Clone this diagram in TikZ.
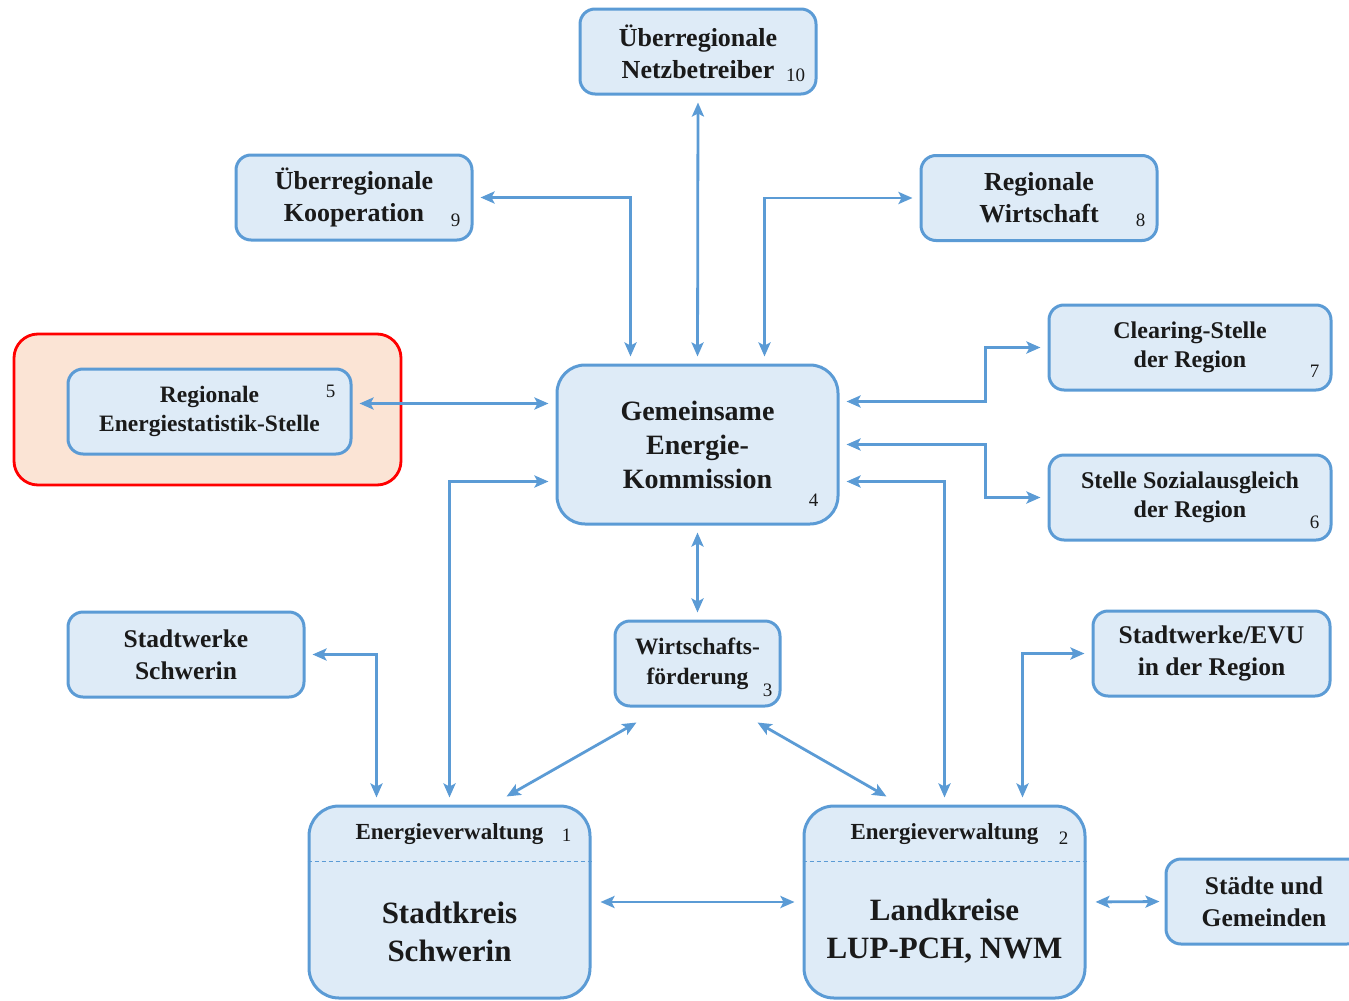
\documentclass[tikz,border=0pt]{standalone}
\usepackage{fontspec}
\setmainfont{Liberation Serif}
\definecolor{lineblue}{HTML}{5B9BD5}
\definecolor{cellblue}{HTML}{DEEBF7}
\definecolor{alertred}{HTML}{FF0000}
\definecolor{peach}{HTML}{FBE4D5}
\definecolor{ink}{HTML}{1A1A1A}
\usetikzlibrary{arrows.meta, positioning}
\tikzset{
  box/.style={draw=lineblue, fill=cellblue, line width=3pt, rounded corners=15pt, align=center, text=ink,
              font=\bfseries\fontsize{24}{29}\selectfont, inner sep=0pt, minimum width=236pt, minimum height=85pt},
  bigbox/.style={box, rounded corners=30pt, minimum width=281pt, minimum height=192pt},
  hilite/.style={draw=alertred, fill=peach, line width=2.8pt, rounded corners=24pt,
              minimum width=387pt, minimum height=151pt},
  flow/.style={{Stealth[length=14pt,width=12pt,inset=3pt]}-{Stealth[length=14pt,width=12pt,inset=3pt]}, line width=2.8pt,
              draw=lineblue, shorten <=7pt, shorten >=7pt},
  nr/.style={font=\fontsize{19}{19}\selectfont, text=ink, inner sep=0pt},
  head/.style={font=\bfseries\fontsize{23}{28}\selectfont, text=ink, inner sep=0pt},
  body/.style={align=center, font=\bfseries\fontsize{31}{38}\selectfont, text=ink, inner sep=0pt},
}
\begin{document}
\begin{tikzpicture}[x=1pt,y=-1pt]
\useasboundingbox (0,0) rectangle (1349,1001);
\node[hilite] (focus) at (207.5,409.5) {};
\node[box,font=\bfseries\fontsize{26}{32}\selectfont] (netz) at (698,51.5) {Überregionale\\Netzbetreiber};
\node[box,font=\bfseries\fontsize{26}{32}\selectfont] (koop) at (354,197.5) {Überregionale\\Kooperation};
\node[box,font=\bfseries\fontsize{26}{32}\selectfont] (wirt) at (1039,198) {Regionale\\Wirtschaft};
\node[box,minimum width=282pt] (clear) at (1190,347.5) {Clearing-Stelle\\der Region};
\node[box,minimum width=282pt] (sozial) at (1190,497.5) {Stelle Sozialausgleich\\der Region};
\node[box,minimum width=283pt,font=\bfseries\fontsize{23.5}{29}\selectfont] (stat) at (209.5,411.5) {Regionale\\Energiestatistik-Stelle};
\node[box,minimum width=281pt,minimum height=159pt,rounded corners=28pt,font=\bfseries\fontsize{28}{34}\selectfont] (kom) at (697.5,444.5) {Gemeinsame\\Energie-\\Kommission};
\node[box,font=\bfseries\fontsize{25.5}{32}\selectfont] (sws) at (186,654.5) {Stadtwerke\\Schwerin};
\node[box,minimum width=165pt,font=\bfseries\fontsize{23.5}{30}\selectfont] (wf) at (697.5,663.5) {Wirtschafts-\\förderung};
\node[box,minimum width=237pt,font=\bfseries\fontsize{25.5}{32}\selectfont] (evu) at (1211.5,653.5) {Stadtwerke/EVU\\in der Region};
\node[box,minimum width=196pt,font=\bfseries\fontsize{25.5}{32}\selectfont] (stg) at (1264,901.5) {Städte und\\Gemeinden};
\node[bigbox] (sk) at (449.5,902) {};
\node[bigbox] (lk) at (944.5,902) {};
\node[head] (skh) at ([yshift=-30pt]sk.north) {Energieverwaltung};
\node[head] (lkh) at ([yshift=-30pt]lk.north) {Energieverwaltung};
\draw[lineblue, line width=1.3pt, dash pattern=on 4pt off 3pt] ([yshift=-57pt]sk.north west) -- ([yshift=-57pt]sk.north east);
\draw[lineblue, line width=1.3pt, dash pattern=on 4pt off 3pt] ([yshift=-57pt]lk.north west) -- ([yshift=-57pt]lk.north east);
\node[body] (skt) at ([yshift=-127pt]sk.north) {Stadtkreis\\Schwerin};
\node[body] (lkt) at ([yshift=-127pt]lk.north) {Landkreise\\LUP-PCH, NWM};
\node[nr] (n10) at ([xshift=-22pt,yshift=20pt]netz.south east) {10};
\node[nr] (n9) at ([xshift=-18pt,yshift=21pt]koop.south east) {9};
\node[nr] (n8) at ([xshift=-18pt,yshift=22pt]wirt.south east) {8};
\node[nr] (n7) at ([xshift=-18pt,yshift=20pt]clear.south east) {7};
\node[nr] (n6) at ([xshift=-18pt,yshift=19pt]sozial.south east) {6};
\node[nr] (n5) at ([xshift=-22pt,yshift=-24pt]stat.north east) {5};
\node[nr] (n4) at ([xshift=-26pt,yshift=25pt]kom.south east) {4};
\node[nr] (n3) at ([xshift=-14pt,yshift=17pt]wf.south east) {3};
\node[nr] (n1) at ([xshift=-25pt,yshift=-31pt]sk.north east) {1};
\node[nr] (n2) at ([xshift=-23pt,yshift=-34pt]lk.north east) {2};
\draw[flow] (netz.south) -- (kom.north);
\draw[flow] (koop.east) -| ([xshift=-67pt]kom.north);
\draw[flow] (wirt.west) -| ([xshift=67pt]kom.north);
\draw[flow] ([yshift=43pt]kom.east) -- ++(146,0) |- (clear.west);
\draw[flow] (kom.east) -- ++(146,0) |- (sozial.west);
\draw[flow] ([yshift=8pt]stat.east) -- ([yshift=8pt]stat.east -| kom.west);
\draw[flow] (sk.north) |- ([yshift=-37pt]kom.west);
\draw[flow] (lk.north) |- ([yshift=-37pt]kom.east);
\draw[flow] (kom.south) -- (wf.north);
\draw[flow] (sws.east) -| ([xshift=-73pt]sk.north);
\draw[flow] (evu.west) -| ([xshift=78pt]lk.north);
\draw[flow,shorten <=0pt,shorten >=0pt] ([xshift=-61pt,yshift=-15pt]wf.south) -- ([xshift=57pt,yshift=8pt]sk.north);
\draw[flow,shorten <=0pt,shorten >=0pt] ([xshift=60pt,yshift=-15pt]wf.south) -- ([xshift=-58pt,yshift=8pt]lk.north);
\draw[flow,shorten <=9pt,shorten >=8pt] (sk.east) -- (lk.west);
\draw[flow,shorten <=9pt,shorten >=5pt] (lk.east) -- (stg.west);
\end{tikzpicture}
\end{document}
